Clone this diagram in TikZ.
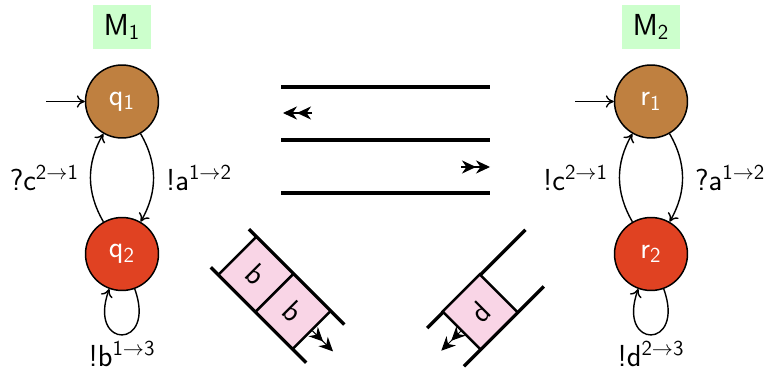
\documentclass[tikz,border=0pt]{standalone}
\usetikzlibrary{arrows.meta}
\definecolor{qone}{RGB}{191,128,64}
\definecolor{qtwo}{RGB}{224,66,34}
\definecolor{mbox}{RGB}{204,255,204}
\definecolor{cellpink}{RGB}{249,213,230}
\begin{document}
\begin{tikzpicture}[x=0.02cm,y=-0.02cm,
  font=\sffamily\fontsize{17.3}{21}\selectfont,
  state/.style={circle,draw,line width=0.85pt,minimum size=1.46cm,inner sep=0pt,text=white},
  mname/.style={fill=mbox,minimum width=1.16cm,minimum height=0.88cm,inner sep=0pt},
  chan/.style={line width=1.9pt},
  cell/.style={draw,line width=1.4pt,fill=cellpink,minimum width=1.05cm,minimum height=1.07cm,inner sep=0pt,transform shape},
  trans/.style={-{To[length=4.5pt,width=7pt]},line width=0.8pt},
  qarrow/.style={line width=0.6pt,-{Stealth[length=8pt,width=7.5pt,inset=2.6pt]Stealth[length=8pt,width=7.5pt,inset=2.6pt]}},
  lab/.style={inner sep=0pt}
]
\useasboundingbox (0,0) rectangle (768,371);

% machine 1
\node[mname] (M1) at (122,27) {M\textsubscript{1}};
\node[state,fill=qone] (q1) at (122,101.5) {q\textsubscript{1}};
\node[state,fill=qtwo] (q2) at (122,254) {q\textsubscript{2}};
\coordinate (q1in) at (46,101.5);
\draw[trans] (q1in) -- (q1);
\draw[trans] (q1) to[bend left=30] node[midway,lab,anchor=west,xshift=0.24cm] {!a\textsuperscript{1$\to$2}} (q2);
\draw[trans] (q2) to[bend left=30] node[midway,lab,anchor=east,xshift=-0.22cm] {?c\textsuperscript{2$\to$1}} (q1);
\draw[trans] (q2) to[out=-70,in=-110,min distance=1.3cm] node[midway,lab,anchor=north,yshift=-0.12cm] {!b\textsuperscript{1$\to$3}} (q2);

% machine 2
\node[mname] (M2) at (651,27) {M\textsubscript{2}};
\node[state,fill=qone] (r1) at (651,101.5) {r\textsubscript{1}};
\node[state,fill=qtwo] (r2) at (651,254) {r\textsubscript{2}};
\coordinate (r1in) at (575,101.5);
\draw[trans] (r1in) -- (r1);
\draw[trans] (r1) to[bend left=30] node[midway,lab,anchor=west,xshift=0.24cm] {?a\textsuperscript{1$\to$2}} (r2);
\draw[trans] (r2) to[bend left=30] node[midway,lab,anchor=east,xshift=-0.22cm] {!c\textsuperscript{2$\to$1}} (r1);
\draw[trans] (r2) to[out=-70,in=-110,min distance=1.3cm] node[midway,lab,anchor=north,yshift=-0.12cm] {!d\textsuperscript{2$\to$3}} (r2);

% horizontal channels
\draw[chan] (281,87) -- (490,87);
\draw[chan] (281,140) -- (490,140);
\draw[chan] (281,193) -- (490,193);
\coordinate (c1s) at (312,113);
\coordinate (c1t) at (283,113);
\draw[qarrow] (c1s) -- (c1t);
\coordinate (c2s) at (461,167);
\coordinate (c2t) at (490,167);
\draw[qarrow] (c2s) -- (c2t);

% left queue
\begin{scope}[shift={(229.8,248.2)},rotate=-45,x=0.02cm,y=0.02cm]
  \draw[chan] (0,27) -- (135,27);
  \draw[chan] (0,-27) -- (135,-27);
  \node[cell] (b1) at (37,0) {b};
  \node[cell] (b2) at (89.5,0) {b};
  \coordinate (ltip) at (146,0);
  \draw[qarrow] (b2.east) -- (ltip);
\end{scope}

% right queue
\begin{scope}[shift={(444.8,347.2)},rotate=45,x=0.02cm,y=0.02cm]
  \draw[chan] (1,26) -- (140,26);
  \draw[chan] (0,-27) -- (113,-27);
  \node[cell] (d1) at (50,0) {d};
  \coordinate (rtip) at (-5,0);
  \draw[qarrow] (d1.west) -- (rtip);
\end{scope}
\end{tikzpicture}
\end{document}
